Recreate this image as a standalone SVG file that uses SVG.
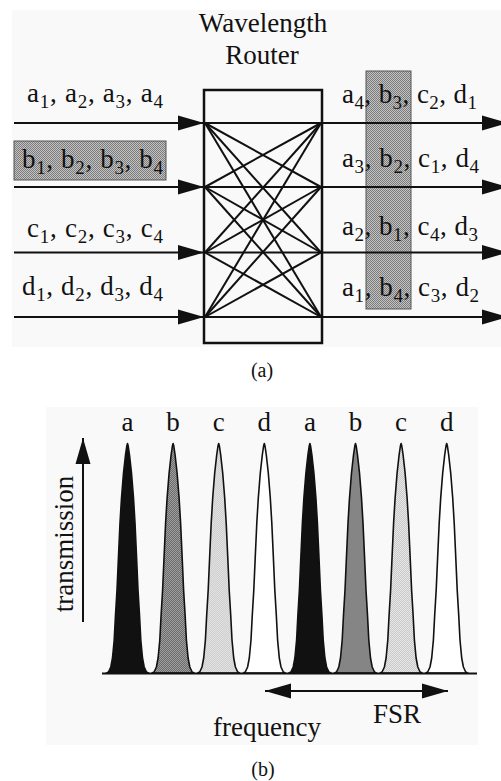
<svg xmlns="http://www.w3.org/2000/svg" xmlns:xlink="http://www.w3.org/1999/xlink" width="501" height="781" viewBox="0 0 501 781">
<style>
text{font-family:"Liberation Serif","Times New Roman",serif;fill:#111;}
.lbl{font-size:27px;}
.sub{font-size:19px;}
.cap{font-size:20px;}
.ln{stroke:#111;stroke-width:2;fill:none;}
.x{stroke:#111;stroke-width:2;}
.pk{stroke:#111;stroke-width:1.6;stroke-linejoin:round;}
</style>
<defs>
<marker id="ah" markerUnits="userSpaceOnUse" markerWidth="27" markerHeight="16" refX="26" refY="7.5" orient="auto-start-reverse" overflow="visible">
<path d="M0,0 L26,7.5 L0,15 Z" fill="#111"/>
</marker>
<pattern id="shade" width="2" height="2" patternUnits="userSpaceOnUse">
<rect width="2" height="2" fill="#c2c2c2"/><rect width="1" height="1" fill="#7c7c7c"/><rect x="1" y="1" width="1" height="1" fill="#7c7c7c"/>
</pattern>
<pattern id="darkdot" width="2" height="2" patternUnits="userSpaceOnUse">
<rect width="2" height="2" fill="#a4a4a4"/><rect width="1" height="1" fill="#666"/><rect x="1" y="1" width="1" height="1" fill="#666"/>
</pattern>
<pattern id="lightdot" width="2" height="2" patternUnits="userSpaceOnUse">
<rect width="2" height="2" fill="#ececec"/><rect width="1" height="1" fill="#c4c4c4"/><rect x="1" y="1" width="1" height="1" fill="#c4c4c4"/>
</pattern>
<path id="peak" d="M-21,673 L-19,672 L-16.7,667 L-15,658 L-13.3,640 L-12,615 L-10.5,590 L-9,556 L-7.5,523 L-6,498 L-4,473 L-2,455 L-0.7,446 L0,443.5 L0.7,446 L2,455 L4,473 L6,498 L7.5,523 L9,556 L10.5,590 L12,615 L13.3,640 L15,658 L16.7,667 L19,672 L21,673 Z"/>
</defs>
<rect width="501" height="781" fill="#fff"/>
<!-- panel (a) -->
<rect x="12" y="10" width="489" height="337" fill="#f9f9f9"/>
<g id="title">
<text class="lbl" x="263" y="32" text-anchor="middle">Wavelength</text>
<text class="lbl" x="262" y="64" text-anchor="middle">Router</text>
</g>
<g id="b-input-highlight">
<rect x="14" y="141" width="152" height="39" fill="url(#shade)" stroke="#555" stroke-width="1"/>
</g>
<g id="b-output-highlight">
<rect x="366" y="71" width="45" height="238" fill="url(#shade)" stroke="#555" stroke-width="1"/>
</g>
<g id="connectors">
<line class="ln" x1="14" y1="123" x2="204" y2="123" marker-end="url(#ah)"/>
<line class="ln" x1="14" y1="187" x2="204" y2="187" marker-end="url(#ah)"/>
<line class="ln" x1="14" y1="252.5" x2="204" y2="252.5" marker-end="url(#ah)"/>
<line class="ln" x1="14" y1="317" x2="204" y2="317" marker-end="url(#ah)"/>
<line class="ln" x1="322" y1="123" x2="508" y2="123" marker-end="url(#ah)"/>
<line class="ln" x1="322" y1="187" x2="508" y2="187" marker-end="url(#ah)"/>
<line class="ln" x1="322" y1="252.5" x2="508" y2="252.5" marker-end="url(#ah)"/>
<line class="ln" x1="322" y1="317" x2="508" y2="317" marker-end="url(#ah)"/>
<g id="crossbar">
<line class="x" x1="205" y1="123" x2="321" y2="123"/>
<line class="x" x1="205" y1="123" x2="321" y2="187"/>
<line class="x" x1="205" y1="123" x2="321" y2="252.5"/>
<line class="x" x1="205" y1="123" x2="321" y2="317"/>
<line class="x" x1="205" y1="187" x2="321" y2="123"/>
<line class="x" x1="205" y1="187" x2="321" y2="187"/>
<line class="x" x1="205" y1="187" x2="321" y2="252.5"/>
<line class="x" x1="205" y1="187" x2="321" y2="317"/>
<line class="x" x1="205" y1="252.5" x2="321" y2="123"/>
<line class="x" x1="205" y1="252.5" x2="321" y2="187"/>
<line class="x" x1="205" y1="252.5" x2="321" y2="252.5"/>
<line class="x" x1="205" y1="252.5" x2="321" y2="317"/>
<line class="x" x1="205" y1="317" x2="321" y2="123"/>
<line class="x" x1="205" y1="317" x2="321" y2="187"/>
<line class="x" x1="205" y1="317" x2="321" y2="252.5"/>
<line class="x" x1="205" y1="317" x2="321" y2="317"/>
</g>
</g>
<g id="router">
<rect x="204" y="90" width="118" height="253" fill="none" stroke="#111" stroke-width="2.5"/>
</g>
<g id="inputs">
<text class="lbl" x="27" y="102" textLength="136" lengthAdjust="spacing">a<tspan class="sub" dy="6">1</tspan><tspan dy="-6">, a</tspan><tspan class="sub" dy="6">2</tspan><tspan dy="-6">, a</tspan><tspan class="sub" dy="6">3</tspan><tspan dy="-6">, a</tspan><tspan class="sub" dy="6">4</tspan></text>
<text class="lbl" x="22" y="168" textLength="141" lengthAdjust="spacing">b<tspan class="sub" dy="6">1</tspan><tspan dy="-6">, b</tspan><tspan class="sub" dy="6">2</tspan><tspan dy="-6">, b</tspan><tspan class="sub" dy="6">3</tspan><tspan dy="-6">, b</tspan><tspan class="sub" dy="6">4</tspan></text>
<text class="lbl" x="27" y="237" textLength="136" lengthAdjust="spacing">c<tspan class="sub" dy="6">1</tspan><tspan dy="-6">, c</tspan><tspan class="sub" dy="6">2</tspan><tspan dy="-6">, c</tspan><tspan class="sub" dy="6">3</tspan><tspan dy="-6">, c</tspan><tspan class="sub" dy="6">4</tspan></text>
<text class="lbl" x="22" y="295" textLength="141" lengthAdjust="spacing">d<tspan class="sub" dy="6">1</tspan><tspan dy="-6">, d</tspan><tspan class="sub" dy="6">2</tspan><tspan dy="-6">, d</tspan><tspan class="sub" dy="6">3</tspan><tspan dy="-6">, d</tspan><tspan class="sub" dy="6">4</tspan></text>
</g>
<g id="outputs">
<text class="lbl" x="342" y="103" textLength="135" lengthAdjust="spacing">a<tspan class="sub" dy="6">4</tspan><tspan dy="-6">, b</tspan><tspan class="sub" dy="6">3</tspan><tspan dy="-6">, c</tspan><tspan class="sub" dy="6">2</tspan><tspan dy="-6">, d</tspan><tspan class="sub" dy="6">1</tspan></text>
<text class="lbl" x="342" y="167" textLength="137" lengthAdjust="spacing">a<tspan class="sub" dy="6">3</tspan><tspan dy="-6">, b</tspan><tspan class="sub" dy="6">2</tspan><tspan dy="-6">, c</tspan><tspan class="sub" dy="6">1</tspan><tspan dy="-6">, d</tspan><tspan class="sub" dy="6">4</tspan></text>
<text class="lbl" x="342" y="235" textLength="136" lengthAdjust="spacing">a<tspan class="sub" dy="6">2</tspan><tspan dy="-6">, b</tspan><tspan class="sub" dy="6">1</tspan><tspan dy="-6">, c</tspan><tspan class="sub" dy="6">4</tspan><tspan dy="-6">, d</tspan><tspan class="sub" dy="6">3</tspan></text>
<text class="lbl" x="342" y="296" textLength="137" lengthAdjust="spacing">a<tspan class="sub" dy="6">1</tspan><tspan dy="-6">, b</tspan><tspan class="sub" dy="6">4</tspan><tspan dy="-6">, c</tspan><tspan class="sub" dy="6">3</tspan><tspan dy="-6">, d</tspan><tspan class="sub" dy="6">2</tspan></text>
</g>
<text class="cap" x="262" y="377" text-anchor="middle">(a)</text>
<!-- panel (b) -->
<rect x="46" y="407" width="432" height="338" fill="#f9f9f9"/>
<g id="peaks">
<use xlink:href="#peak" href="#peak" x="127.5" class="pk" fill="#111"/>
<use xlink:href="#peak" href="#peak" x="173.1" class="pk" fill="url(#darkdot)"/>
<use xlink:href="#peak" href="#peak" x="218.7" class="pk" fill="url(#lightdot)"/>
<use xlink:href="#peak" href="#peak" x="264.3" class="pk" fill="#fff"/>
<use xlink:href="#peak" href="#peak" x="309.9" class="pk" fill="#111"/>
<use xlink:href="#peak" href="#peak" x="355.5" class="pk" fill="url(#darkdot)"/>
<use xlink:href="#peak" href="#peak" x="401.1" class="pk" fill="url(#lightdot)"/>
<use xlink:href="#peak" href="#peak" x="446.7" class="pk" fill="#fff"/>
</g>
<g id="peak-labels">
<text class="lbl" x="127.5" y="431" text-anchor="middle">a</text>
<text class="lbl" x="173.1" y="431" text-anchor="middle">b</text>
<text class="lbl" x="218.7" y="431" text-anchor="middle">c</text>
<text class="lbl" x="264.3" y="431" text-anchor="middle">d</text>
<text class="lbl" x="309.9" y="431" text-anchor="middle">a</text>
<text class="lbl" x="355.5" y="431" text-anchor="middle">b</text>
<text class="lbl" x="401.1" y="431" text-anchor="middle">c</text>
<text class="lbl" x="446.7" y="431" text-anchor="middle">d</text>
</g>
<g id="axes">
<line class="ln" x1="102" y1="673.5" x2="477" y2="673.5"/>
<line class="ln" x1="83" y1="622" x2="83" y2="438" marker-end="url(#ah)"/>
<line class="ln" x1="265" y1="691" x2="448" y2="691" marker-start="url(#ah)" marker-end="url(#ah)"/>
</g>
<text class="lbl" transform="translate(73,544) rotate(-90)" text-anchor="middle">transmission</text>
<text class="lbl" x="267" y="736" text-anchor="middle">frequency</text>
<text class="lbl" x="397" y="723" text-anchor="middle">FSR</text>
<text class="cap" x="263" y="776" text-anchor="middle">(b)</text>
</svg>
